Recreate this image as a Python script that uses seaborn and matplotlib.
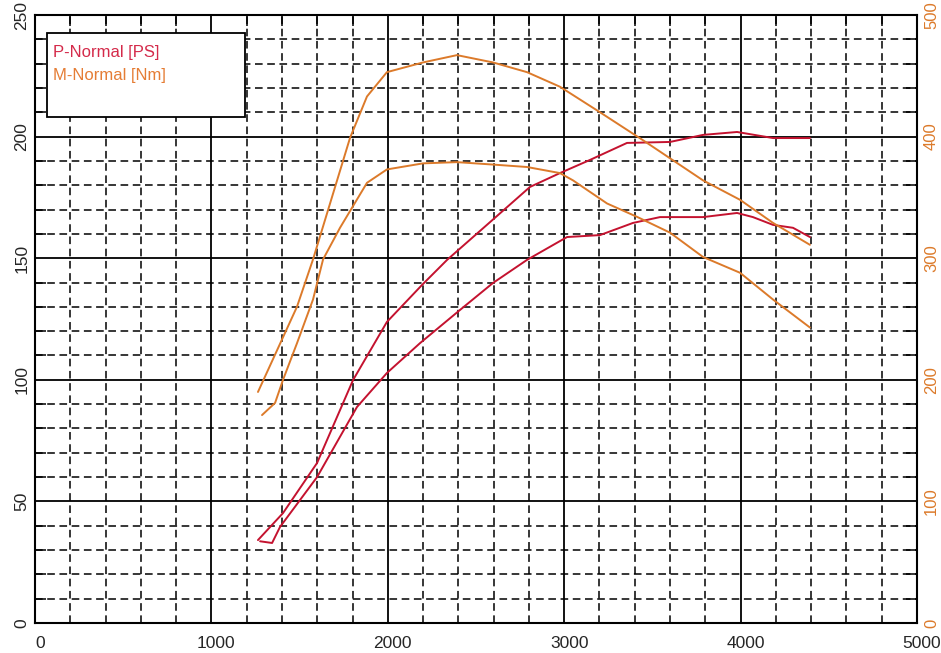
import numpy as np
import pandas as pd
import matplotlib
matplotlib.use("Agg")
import matplotlib.pyplot as plt
import matplotlib.transforms as mtransforms
from matplotlib.patches import Rectangle
from matplotlib.ticker import MultipleLocator
import seaborn as sns

# Power curves [PS] over engine speed [rpm]
p1_rpm = [1264, 1406, 1599, 1803, 1995, 2194, 2336, 2568, 2806, 2976, 3146, 3356, 3600, 3787, 3980, 4184, 4393]
p1_ps = [34.1, 45.2, 65.8, 99.9, 123.8, 139.0, 149.3, 164.1, 179.3, 185.0, 190.4, 197.4, 197.8, 200.7, 201.9, 199.4, 199.4]

p2_rpm = [1276, 1344, 1389, 1599, 1825, 1995, 2183, 2409, 2596, 2789, 3016, 3203, 3390, 3543, 3787, 3980, 4070, 4184, 4297, 4393]
p2_ps = [33.6, 32.9, 39.5, 60.0, 88.8, 102.8, 115.1, 128.7, 139.8, 149.3, 158.7, 159.5, 164.5, 166.9, 166.9, 168.6, 166.9, 163.7, 162.5, 158.7]

# Torque curves [Nm] over engine speed [rpm]
m1_rpm = [1264, 1406, 1485, 1576, 1786, 1882, 1995, 2200, 2392, 2596, 2789, 2976, 3203, 3447, 3787, 3997, 4184, 4393]
m1_nm = [190, 235, 260, 299, 399, 433, 453, 461, 467, 461, 453, 441, 420, 397, 364, 348, 329, 311]

m2_rpm = [1287, 1361, 1406, 1485, 1576, 1633, 1729, 1882, 1995, 2200, 2392, 2596, 2789, 2976, 3050, 3243, 3413, 3600, 3787, 3997, 4184, 4393]
m2_nm = [171, 181, 200, 230, 266, 299, 325, 362, 373, 378, 379, 377, 375, 370, 364, 345, 334, 321, 301, 288, 266, 243]

legend_labels = ["P-Normal [PS]", "M-Normal [Nm]"]

x_ticks = [0, 1000, 2000, 3000, 4000, 5000]
left_ticks = [0, 50, 100, 150, 200, 250]
right_ticks = [0, 100, 200, 300, 400, 500]

power_color = "#c4122f"
torque_color = "#dc7a2a"
legend_power_color = "#d42a4a"
legend_torque_color = "#e57d35"

power = pd.concat([
    pd.DataFrame({"rpm": p1_rpm, "value": p1_ps, "run": "a"}),
    pd.DataFrame({"rpm": p2_rpm, "value": p2_ps, "run": "b"}),
])
torque = pd.concat([
    pd.DataFrame({"rpm": m1_rpm, "value": m1_nm, "run": "a"}),
    pd.DataFrame({"rpm": m2_rpm, "value": m2_nm, "run": "b"}),
])

sns.set_style("white")
plt.rcParams["font.family"] = ["Liberation Sans", "DejaVu Sans"]

fig = plt.figure(figsize=(9.41, 6.53), dpi=100)
ax = fig.add_axes([35 / 941, 30 / 653, 882 / 941, 608 / 653])
ax2 = ax.twinx()

sns.lineplot(data=power, x="rpm", y="value", units="run", estimator=None, sort=False,
             color=power_color, linewidth=1.4, ax=ax, legend=False)
sns.lineplot(data=torque, x="rpm", y="value", units="run", estimator=None, sort=False,
             color=torque_color, linewidth=1.4, ax=ax2, legend=False)

ax.set_xlim(0, 5000)
ax.set_ylim(0, 250)
ax2.set_ylim(0, 500)

ax.set_xticks(x_ticks)
ax.set_yticks(left_ticks)
ax2.set_yticks(right_ticks)
ax.xaxis.set_minor_locator(MultipleLocator(200))
ax.yaxis.set_minor_locator(MultipleLocator(10))

ax.set_axisbelow(True)
ax.grid(which="major", color="black", linestyle="-", linewidth=1.3)
ax.grid(which="minor", color="black", linestyle=(0, (5, 3)), linewidth=1.1)

ax.set_xlabel("")
ax.set_ylabel("")
ax2.set_ylabel("")

ax.tick_params(axis="both", which="minor", direction="in", length=8, width=1.1,
               top=True, right=True, colors="black")
ax.tick_params(axis="both", which="major", direction="in", length=0)
ax.tick_params(axis="x", which="major", labelsize=12.5, pad=9)
ax.tick_params(axis="y", which="major", labelsize=12.5, pad=4, labelrotation=90)
ax2.tick_params(axis="y", which="major", direction="in", length=0, labelsize=12,
                pad=5, labelrotation=90, labelcolor=torque_color)

for lab in ax.get_yticklabels():
    lab.set_verticalalignment("center")
for lab in ax2.get_yticklabels():
    lab.set_verticalalignment("center")

shift = mtransforms.ScaledTranslation(5 / 100, 0, fig.dpi_scale_trans)
for lab in ax.get_xticklabels():
    lab.set_transform(lab.get_transform() + shift)

for side in ["left", "right", "top", "bottom"]:
    ax.spines[side].set_visible(True)
    ax.spines[side].set_color("black")
    ax.spines[side].set_linewidth(1.5)
    ax2.spines[side].set_visible(False)

# Legend box with coloured labels
ax.add_patch(Rectangle((0.0136, 0.832), 0.2245, 0.138, transform=ax.transAxes,
                       facecolor="white", edgecolor="black", linewidth=1.3, zorder=5))
ax.text(0.0204, 0.9375, legend_labels[0], transform=ax.transAxes, color=legend_power_color,
        fontsize=12, va="center", ha="left", zorder=6)
ax.text(0.0204, 0.900, legend_labels[1], transform=ax.transAxes, color=legend_torque_color,
        fontsize=12, va="center", ha="left", zorder=6)

fig.savefig("out.png", dpi=100)
